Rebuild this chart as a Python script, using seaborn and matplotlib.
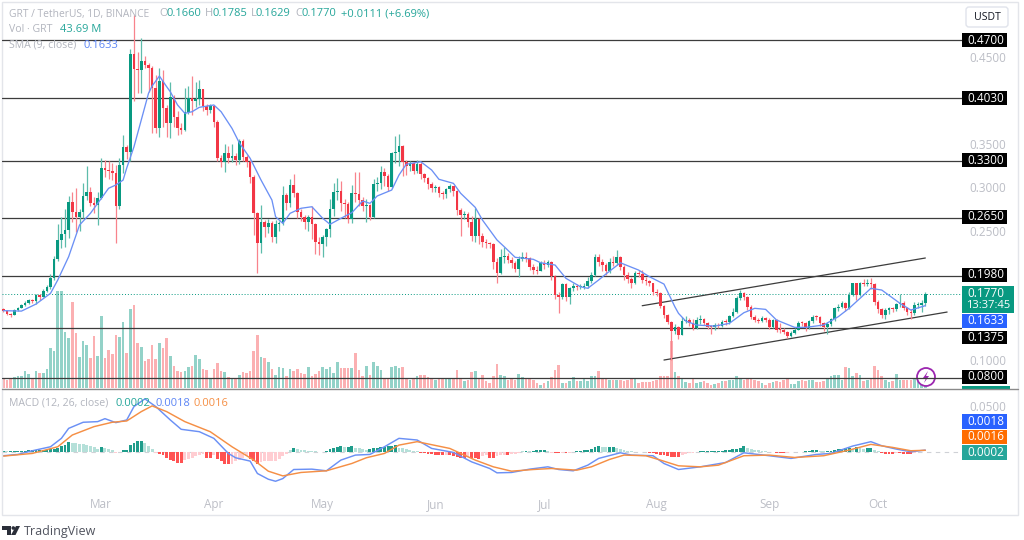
import numpy as np
import pandas as pd
import matplotlib
matplotlib.use('Agg')
import matplotlib.pyplot as plt
from matplotlib.patches import Circle, FancyBboxPatch, Polygon, Rectangle
from matplotlib.transforms import Affine2D
import seaborn as sns

# daily candles, day 0 = 2 Feb
first_open = 0.1590
closes = [
    .1575, .1542, .1530, .1582, .1610, .1640, .1667, .1698, .1690, .1755,
    .1736, .1806, .1844, .1948, .2168, .2391, .2456, .2506, .2826, .2711,
    .2660, .2711, .2899, .2948, .2814, .2790, .2872, .3222, .3199, .3190,
    .3170, .2783, .3257, .3468, .3407, .4538, .4365, .4350, .4461, .4411,
    .4377, .4146, .3688, .4227, .3915, .3741, .4042, .3811, .3684, .3661,
    .3869, .4030, .3996, .4020, .4131, .3938, .3892, .3938, .3757, .3337,
    .3295, .3395, .3340, .3360, .3320, .3534, .3352, .3295, .3122, .2702,
    .2356, .2602, .2545, .2590, .2425, .2575, .2590, .2910, .2821, .3025,
    .2937, .2711, .2660, .2595, .2652, .2575, .2363, .2340, .2429, .2513,
    .2745, .2948, .2960,
    .2818, .2810, .2633, .2937, .2925, .2852, .2787, .2795, .2656, .3037,
    .3045, .3172, .3130, .3006, .3392, .3405, .3479, .3288, .3248, .3280,
    .3190, .3270, .3153, .3106, .3037, .2991, .3000, .2933, .2925, .2980,
    .3010, .2956, .2737, .2679, .2690, .2602, .2436, .2633, .2436, .2371,
    .2360, .2349, .2140, .2013, .2199, .2210, .2160, .2130, .2056, .2171,
    .2195, .2180, .2082, .2050, .2036, .2121, .2100, .2140, .1975, .1755,
    .1736, .1882, .1736, .1831, .1858, .1845, .1850, .1860, .1917, .1986,
    .2199, .2140, .2102, .2036, .2140, .2130, .2199, .2082, .1986, .1940,
    .1898, .2013, .2000, .1929, .1915, .1893, .1793, .1780, .1632, .1525,
    .1443, .1345, .1386, .1293,
    .1455, .1470, .1432, .1374, .1467, .1480, .1432, .1390, .1386, .1410,
    .1400, .1447, .1440, .1513, .1563, .1718, .1776, .1736, .1620, .1505,
    .1467, .1460, .1487, .1467, .1383, .1467, .1356, .1349, .1330, .1282,
    .1320, .1356, .1437, .1430, .1371, .1450, .1505, .1500, .1427, .1383,
    .1420, .1475, .1601, .1620, .1667, .1610, .1755, .1891, .1755, .1891,
    .1885, .1895, .1885, .1679, .1590, .1525, .1582, .1600, .1590, .1648,
    .1665, .1601, .1563, .1550, .1640, .1645, .1660, .1770,
]
highs = [
    .1600, .1580, .1550, .1590, .1620, .1650, .1690, .1710, .1715, .1770,
    .1765, .1830, .1870, .2000, .2210, .2580, .2660, .2750, .2900, .2948,
    .2990, .2750, .3050, .3250, .3000, .2890, .2950, .3340, .3320, .3300,
    .3280, .3260, .3340, .3603, .3490, .4600, .4989, .4560, .4720, .4520,
    .4430, .4400, .4300, .4380, .4350, .3950, .4220, .4060, .3880, .3740,
    .4150, .4170, .4290, .4210, .4240, .4140, .3960, .3960, .3940, .3780,
    .3370, .3499, .3480, .3500, .3390, .3560, .3560, .3370, .3310, .3140,
    .2713, .2800, .2620, .2630, .2610, .2620, .2610, .3020, .2930, .3090,
    .3150, .2950, .2750, .2680, .2680, .2783, .2590, .2420, .2450, .2530,
    .2870, .3050, .3110,
    .3070, .2860, .2830, .3030, .3179, .3180, .2890, .2860, .2810, .3090,
    .3120, .3250, .3220, .3150, .3410, .3590, .3610, .3490, .3310, .3300,
    .3290, .3310, .3290, .3170, .3120, .3060, .3030, .3020, .2960, .2990,
    .3040, .3020, .2970, .2760, .2720, .2710, .2670, .2760, .2650, .2470,
    .2400, .2370, .2360, .2180, .2290, .2310, .2240, .2190, .2150, .2210,
    .2250, .2250, .2200, .2110, .2090, .2150, .2160, .2160, .2150, .1990,
    .1790, .1900, .1900, .1850, .1890, .1880, .1880, .1890, .1960, .2020,
    .2230, .2230, .2170, .2130, .2180, .2210, .2270, .2210, .2100, .2020,
    .1960, .2030, .2040, .2050, .1960, .1930, .1900, .1820, .1790, .1640,
    .1540, .1450, .1420, .1400,
    .1500, .1510, .1490, .1480, .1500, .1520, .1490, .1440, .1410, .1430,
    .1430, .1470, .1480, .1530, .1600, .1740, .1810, .1790, .1750, .1640,
    .1530, .1490, .1510, .1500, .1490, .1480, .1480, .1430, .1370, .1340,
    .1340, .1380, .1460, .1460, .1440, .1470, .1520, .1530, .1510, .1440,
    .1440, .1490, .1620, .1650, .1690, .1680, .1790, .1900, .1900, .1910,
    .1935, .1945, .1950, .1900, .1700, .1610, .1600, .1620, .1620, .1660,
    .1770, .1690, .1620, .1590, .1680, .1670, .1700, .1785,
]
lows = [
    .1560, .1525, .1500, .1525, .1575, .1605, .1630, .1650, .1660, .1650,
    .1700, .1730, .1790, .1830, .1930, .2150, .2300, .2310, .2410, .2600,
    .2480, .2500, .2650, .2850, .2780, .2700, .2564, .2870, .3120, .3100,
    .3080, .2359, .2750, .3160, .3330, .3300, .4000, .4088, .4090, .4380,
    .4100, .3626, .3630, .3580, .3700, .3580, .3568, .3700, .3600, .3610,
    .3650, .3850, .3830, .3930, .3950, .3880, .3830, .3860, .3700, .3300,
    .3230, .3180, .3280, .3290, .3260, .3270, .3300, .3230, .3050, .2450,
    .2013, .2240, .2420, .2470, .2370, .2356, .2500, .2560, .2740, .2770,
    .2890, .2650, .2610, .2520, .2500, .2400, .2230, .2217, .2200, .2320,
    .2430, .2670, .2850,
    .2720, .2640, .2590, .2590, .2830, .2780, .2720, .2600, .2620, .2640,
    .2960, .2980, .3020, .2960, .2990, .3280, .3250, .3130, .3140, .3190,
    .3150, .3160, .3100, .3060, .2980, .2940, .2950, .2890, .2860, .2880,
    .2950, .2900, .2680, .2436, .2630, .2540, .2380, .2370, .2340, .2310,
    .2300, .2300, .2060, .1894, .2000, .2130, .2120, .2070, .2020, .1967,
    .2150, .2140, .2040, .2000, .2000, .2030, .2060, .2080, .1930, .1710,
    .1548, .1710, .1690, .1651, .1800, .1810, .1820, .1820, .1840, .1900,
    .1970, .2090, .2030, .1990, .2010, .2090, .2100, .2050, .1930, .1900,
    .1840, .1880, .1960, .1890, .1870, .1860, .1760, .1750, .1600, .1490,
    .1420, .1005, .1300, .1250,
    .1290, .1430, .1400, .1350, .1360, .1420, .1410, .1360, .1310, .1350,
    .1380, .1390, .1410, .1420, .1500, .1550, .1700, .1700, .1580, .1480,
    .1440, .1430, .1440, .1440, .1360, .1370, .1330, .1320, .1300, .1260,
    .1270, .1300, .1350, .1400, .1340, .1360, .1430, .1470, .1400, .1340,
    .1300, .1400, .1460, .1570, .1600, .1570, .1590, .1740, .1700, .1740,
    .1860, .1860, .1820, .1640, .1550, .1490, .1480, .1540, .1560, .1570,
    .1620, .1580, .1530, .1480, .1530, .1600, .1560, .1629,
]
# volume in millions
volumes = [
    52, 43, 54, 58, 63, 67, 94, 76, 54, 94,
    81, 81, 103, 216, 202, 526, 526, 301, 270, 463,
    295, 166, 252, 232, 160, 279, 175, 387, 162, 205,
    184, 288, 277, 358, 189, 427, 448, 243, 220, 148,
    157, 234, 157, 241, 216, 270, 175, 117, 94, 88,
    94, 112, 117, 180, 157, 103, 99, 49, 103, 133,
    94, 85, 58, 54, 54, 72, 88, 79, 90, 198,
    286, 166, 160, 142, 103, 72, 112, 106, 67, 103,
    94, 103, 81, 76, 112, 67, 76, 90, 112, 103,
    112, 79, 139,
    108, 108, 108, 108, 189, 99, 63, 117, 72, 139,
    117, 99, 50, 50, 113, 121, 108, 113, 49, 45,
    49, 67, 72, 72, 59, 49, 45, 49, 54, 54,
    54, 54, 95, 54, 36, 45, 85, 90, 54, 72,
    36, 27, 67, 130, 72, 63, 45, 54, 41, 77,
    60, 54, 54, 41, 27, 18, 27, 36, 59, 95, 126,
    27, 27, 36, 59, 36, 36, 54, 36, 63, 67,
    90, 54, 49, 45, 45, 45, 41, 36, 41, 49,
    49, 27, 32, 32, 32, 36, 41, 63, 63, 63,
    252, 85, 63,
    54, 31, 27, 54, 27, 31, 36, 27, 18, 22,
    27, 36, 36, 45, 45, 63, 54, 45, 49, 52,
    45, 36, 27, 18, 27, 31, 36, 31, 45, 49,
    23, 23, 36, 41, 36, 45, 45, 31, 31, 36,
    54, 67, 72, 72, 45, 113, 108, 63, 81, 72,
    36, 45, 54, 117, 99, 63, 45, 31, 36, 77,
    45, 45, 45, 45, 49, 36, 27, 43.69,
]
macd_hist = [
    .0005, .0004, .0005, .0008, .0010, .0012, .0013, .0015, .0017, .0018,
    .0019, .0021, .0024, .0028, .0034, .0045, .0058, .0075, .0109, .0095,
    .0090, .0085, .0080, .0075, .0065, .0050, .0030, .0047, .0043, .0030,
    .0015, -.0010, .0002, .0018, .0020, .0076, .0098, .0112, .0114, .0090,
    .0058, .0029, -.0015, -.0029, -.0040, -.0065, -.0090, -.0105, -.0119, -.0123,
    -.0090, -.0080, -.0068, -.0050, -.0030, -.0025, -.0065, -.0068, -.0030, -.0080,
    -.0100, -.0130, -.0135, -.0130, -.0105, -.0090, -.0070, -.0050, -.0080, -.0105,
    -.0130, -.0115, -.0105, -.0104, -.0100, -.0095, -.0080, -.0050, -.0025, .0015,
    .0036, .0025, .0018, .0015, .0011, .0009, .0004, -.0007, .0001, .0011,
    .0025, .0040, .0054, .0058, .0050, .0056, .0058, .0040, .0036, .0030,
    .0018, .0030, .0036, .0040, .0050, .0054, .0058, .0065, .0072, .0043,
    .0036, .0025, .0018, .0007, .0003, -.0015, -.0018, -.0022, -.0029, -.0036,
    -.0037, -.0040, -.0030, -.0035, -.0050, -.0060, -.0065, -.0070, -.0060, -.0065,
    -.0070, -.0074, -.0050, -.0030, -.0065, -.0072, -.0050, -.0040, -.0030, -.0030,
    -.0025, -.0020, -.0010, .0007, .0007, .0004, .0004, .0014, .0014, .0014,
    .0012, -.0008, -.0011, -.0015, -.0010, -.0018, -.0011, -.0002, .0007, .0007,
    .0014, .0022, .0029, .0050, .0058, .0054, .0052, .0054, .0055, .0036,
    .0025, .0018, .0007, .0003, -.0001, -.0002, -.0003, -.0004, -.0010, -.0014,
    -.0022, -.0032, -.0040, -.0047, -.0054, -.0058, -.0060, -.0040, -.0020, -.0014,
    -.0008, .0002, .0004, .0005, .0007, .0007, .0008, .0009, .0011, .0018,
    .0022, .0029, .0035, .0040, .0058, .0040, .0029, .0022, .0014, .0007,
    .0004, -.0007, -.0004, -.0011, -.0014, -.0014, -.0010, -.0007, -.0003, -.0001,
    .0002, .0004, .0009, .0014, .0018, .0011, .0007, .0008, .0011, .0018,
    .0029, .0032, .0036, .0040, .0029, .0054, .0036, .0032, .0036, .0040,
    .0018, .0010, -.0018, -.0025, -.0029, -.0029, -.0011, -.0011, -.0022, -.0025,
    -.0029, -.0011, -.0007, -.0004, .0002,
]

sma_days = [0, 5, 9, 13, 15, 18, 21, 24, 26, 29, 31, 33, 34, 36, 39, 40, 41, 43, 45, 46, 48, 50, 52, 54, 58, 60, 63, 65, 68, 71,
            74, 75, 77, 79, 82, 85, 88, 90, 93, 96, 99, 101, 103, 107, 109, 111, 115, 118, 120, 124, 126, 130, 132, 136, 138, 141,
            146, 148, 152, 155, 159, 161, 164, 166, 170, 172, 175, 178, 182, 185, 186, 188, 191, 196, 200, 204, 207, 210, 213, 218,
            221, 226, 230, 233, 237, 239, 242, 247, 250, 253, 254]
sma_vals = [.1575, .1570, .1651, .1775, .1929, .2198, .2564, .2699, .2814, .2988, .3026, .3083, .3222, .3468, .3930, .4084, .4169,
            .4284, .4161, .4103, .3950, .3854, .3872, .3923, .3950, .3872, .3680, .3514, .3334, .3083,
            .2852, .2660, .2583, .2699, .2757, .2775, .2641, .2572, .2641, .2706, .2841, .2814, .2899, .2968, .3141, .3265,
            .3295, .3199, .3092, .3045, .2930, .2768, .2621, .2391, .2313, .2191,
            .2168, .2128, .2102, .1948, .1851, .1833, .1929, .1998, .2128, .2094, .2044, .1967, .1882, .1620, .1544, .1455,
            .1409, .1397, .1428, .1551, .1602, .1590, .1467, .1382, .1382, .1409, .1505, .1602, .1755, .1833, .1813, .1660,
            .1582, .1620, .1633]

macd_days = [0, 4, 8, 13, 16, 18, 22, 26, 28, 31, 34, 36, 39, 42, 46, 49, 54, 58, 62, 64, 68, 70, 73, 75, 77, 80, 85, 89, 93, 97, 101,
             105, 109, 114, 118, 124, 129, 134, 136, 140, 145, 150, 153, 157, 161, 164, 170, 173, 179, 182, 186, 192, 199, 204,
             211, 217, 224, 228, 234, 239, 242, 246, 250, 254]
macd_line = [-.0043, -.0029, .0011, .0054, .0145, .0253, .0319, .0326, .0358, .0315, .0344, .0489, .0572, .0489, .0344, .0243,
             .0217, .0145, -.0018, -.0065, -.0101, -.0235, -.0297, -.0319, -.0290, -.0192, -.0188, -.0206, -.0090, -.0036, -.0029,
             .0054, .0145, .0127, .0036, -.0007, -.0109, -.0181, -.0228, -.0224, -.0188, -.0163, -.0192, -.0206, -.0145, -.0072,
             -.0011, -.0036, -.0043, -.0127, -.0192, -.0163, -.0116, -.0011, -.0043, -.0072, -.0029, -.0018, .0062, .0109, .0065,
             .0029, .0000, .0018]
signal_days = [0, 8, 15, 19, 25, 30, 34, 38, 41, 45, 50, 57, 63, 69, 73, 77, 82, 89, 96, 100, 105, 109, 114, 123, 130, 135, 140,
               146, 151, 158, 162, 167, 171, 177, 181, 186, 192, 197, 204, 211, 218, 226, 233, 239, 245, 250, 254]
signal_line = [-.0047, -.0018, .0054, .0181, .0272, .0319, .0333, .0434, .0496, .0434, .0326, .0217, .0054, -.0090, -.0210,
               -.0261, -.0224, -.0206, -.0127, -.0065, -.0018, .0072, .0109, .0036, -.0090, -.0163, -.0210,
               -.0192, -.0181, -.0199, -.0163, -.0083, -.0036, -.0043, -.0090, -.0152, -.0163, -.0145, -.0043, -.0036, -.0062,
               -.0043, .0018, .0080, .0047, .0011, .0016]

level_prices = [0.47, 0.403, 0.33, 0.265, 0.198, 0.1375, 0.08]
upper_channel_days, upper_channel_prices = [176, 254], [0.1632, 0.2183]
lower_channel_days, lower_channel_prices = [182, 260], [0.1005, 0.1559]
price_ticks = [0.45, 0.35, 0.30, 0.25, 0.10]
month_days = [27, 58, 88, 119, 149, 180, 211, 241]
month_names = ['Mar', 'Apr', 'May', 'Jun', 'Jul', 'Aug', 'Sep', 'Oct']

GREEN = '#089981'
RED = '#f23645'
GREY = '#b2b5be'
TICK_GREY = '#bcbec6'

days = np.arange(len(closes))
closes_arr = np.array(closes)
opens_arr = np.r_[first_open, closes_arr[:-1]]
up = closes_arr >= opens_arr
hist = np.array(macd_hist)
# darker bar while the histogram moves away from zero
growing = np.abs(hist) >= np.r_[0, np.abs(hist[:-1])]
hist_kind = np.where(hist >= 0, np.where(growing, 'up_dark', 'up_light'),
                     np.where(growing, 'down_dark', 'down_light'))
df = pd.DataFrame({'day': days, 'volume': volumes, 'side': np.where(up, 'up', 'down'),
                   'hist': hist, 'kind': hist_kind})

sns.set_theme(style='white')
plt.rcParams['font.family'] = ['Open Sans', 'DejaVu Sans']

W, H = 1024, 540
fig = plt.figure(figsize=(W / 100, H / 100), dpi=100, facecolor='white')
pix = Affine2D().scale(1, -1).translate(0, H)


def pane(left, top, right, bottom):
    return fig.add_axes([left / W, 1 - bottom / H, (right - left) / W, (bottom - top) / H])


ax = pane(2, 2, 962, 388)
ax_vol = ax.twinx()
ax_macd = pane(2, 390, 962, 515)
ax.set_zorder(ax_vol.get_zorder() + 1)
ax.patch.set_visible(False)

xlim = (-0.36, 264.1)

# volume sits behind the candles
sns.barplot(data=df, x='day', y='volume', hue='side', palette={'up': '#93d2c8', 'down': '#fbb0b2'},
            native_scale=True, dodge=False, width=0.72, saturation=1, errorbar=None, legend=False,
            linewidth=0, ax=ax_vol)
ax_vol.set_ylim(0, 2084)
ax_vol.set_axis_off()

# levels and channel
for p in level_prices:
    ax.axhline(p, color='#3c3c3c', lw=0.9, zorder=1)
ax.axhline(closes[-1], color=GREEN, lw=0.7, ls=(0, (1, 2)), zorder=1)
sns.lineplot(x=upper_channel_days, y=upper_channel_prices, color='#3c3c3c', lw=0.9, ax=ax, zorder=1)
sns.lineplot(x=lower_channel_days, y=lower_channel_prices, color='#3c3c3c', lw=0.9, ax=ax, zorder=1)

# candles
ax.vlines(days[up], np.array(lows)[up], np.array(highs)[up], color='#5dbcab', lw=0.9, zorder=2)
ax.vlines(days[~up], np.array(lows)[~up], np.array(highs)[~up], color='#f8838c', lw=0.9, zorder=2)
body_low = np.minimum(opens_arr, closes_arr)
body_h = np.maximum(np.abs(closes_arr - opens_arr), 0.0012)
ax.bar(days, body_h, bottom=body_low, width=0.72, color=np.where(up, GREEN, RED), linewidth=0, zorder=3)

sns.lineplot(x=sma_days, y=sma_vals, color='#6b90f5', lw=0.95, ax=ax, zorder=4, sort=False)

ax.set_xlim(xlim)
ax.set_ylim(0.0682, 0.5139)
ax_vol.set_xlim(xlim)
ax.set_xlabel('')
ax.set_ylabel('')
ax.set_xticks([])
ax.yaxis.tick_right()
ax.set_yticks(price_ticks, [f'{t:.4f}' for t in price_ticks])
ax.tick_params(axis='y', length=0, pad=5.5, labelsize=8.5, labelcolor=TICK_GREY)
for s in ax.spines.values():
    s.set_visible(False)

# MACD pane
ax_macd.axhline(0, color='#cfd1d6', lw=0.8, ls=(0, (4, 4)), zorder=0)
sns.barplot(data=df, x='day', y='hist', hue='kind',
            palette={'up_dark': '#1f9d8b', 'up_light': '#b5e0d9', 'down_dark': '#ff5252', 'down_light': '#ffcdd2'},
            native_scale=True, dodge=False, width=0.8, saturation=1, errorbar=None, legend=False,
            linewidth=0, ax=ax_macd)
sns.lineplot(x=macd_days, y=macd_line, color='#6b90f5', lw=1.05, ax=ax_macd, sort=False)
sns.lineplot(x=signal_days, y=signal_line, color='#f58f45', lw=1.05, ax=ax_macd, sort=False)
ax_macd.set_xlim(xlim)
ax_macd.set_ylim(-0.0684, 0.0668)
ax_macd.set_xlabel('')
ax_macd.set_ylabel('')
ax_macd.yaxis.tick_right()
ax_macd.set_yticks([0.05], ['0.0500'])
ax_macd.tick_params(axis='y', length=0, pad=5.5, labelsize=8.5, labelcolor=TICK_GREY)
ax_macd.set_xticks(month_days, month_names)
ax_macd.tick_params(axis='x', length=0, pad=-12, labelsize=8.5, labelcolor=TICK_GREY)
for s in ax_macd.spines.values():
    s.set_visible(False)


def tag(top, bottom, label, color='black', width=45):
    fig.add_artist(Rectangle((962, top), width, bottom - top, transform=pix, fc=color, ec='none', zorder=5))
    fig.text(986 / W, 1 - (top + bottom) / 2 / H, label, ha='center', va='center', color='white',
             fontsize=8.5, fontweight='medium', zorder=6)


# price tags on the right hand scale
tag(33, 47, '0.4700')
tag(91, 105, '0.4030')
tag(153, 167, '0.3300')
tag(210, 224, '0.2650')
tag(268, 282, '0.1980')
fig.add_artist(Rectangle((962, 286), 52, 27, transform=pix, fc=GREEN, ec='none', zorder=5))
fig.text(986 / W, 1 - 293.5 / H, '0.1770', ha='center', va='center', color='white', fontsize=8.5,
         fontweight='medium', zorder=6)
fig.text(988 / W, 1 - 306 / H, '13:37:45', ha='center', va='center', color='white', fontsize=8, zorder=6)
tag(314, 328, '0.1633', '#2962ff')
tag(331, 344, '0.1375')
tag(370, 384, '0.0800')
tag(414, 429, '0.0018', '#2962ff')
tag(430, 444, '0.0016', '#ff6d00')
tag(445, 460, '0.0002', '#26a69a')

# frame and the bits drawn on top of the chart
fig.add_artist(Rectangle((2, 2), 1016, 513, transform=pix, fill=False, ec='#e3e5ea', lw=1))
fig.add_artist(plt.Line2D([2, 1018], [389, 389], transform=pix, color='#8a8a8a', lw=1))
fig.add_artist(Rectangle((962, 385.5), 48, 3, transform=pix, fc=GREEN, ec='none'))
fig.add_artist(FancyBboxPatch((966, 7), 42, 20, boxstyle='round,pad=0,rounding_size=3', transform=pix,
                              fc='white', ec='#e0e3eb', lw=1))
fig.text(987 / W, 1 - 17 / H, 'USDT', ha='center', va='center', fontsize=7.6, color='#131722')

fig.add_artist(Circle((926, 377), 9, transform=pix, fc='white', ec='#9c27b0', lw=1.3))
fig.add_artist(Polygon([(928, 371), (923, 378), (926, 378), (924, 383), (929, 376), (926, 376)],
                       transform=pix, fc='#9c27b0', ec='none'))


def legend_text(x, y, s, color=GREY, size=8):
    fig.text(x / W, 1 - y / H, s, ha='left', va='center', fontsize=size, color=color, zorder=6)


legend_text(9, 14, 'GRT / TetherUS, 1D, BINANCE', size=7.4)
for x, head, val_x, val in [(159, 'O', 166.5, '0.1660'), (205, 'H', 212.5, '0.1785'), (251, 'L', 256, '0.1629'),
                            (295, 'C', 302, '0.1770')]:
    legend_text(x, 14, head)
    legend_text(val_x, 14, val, '#26a69a')
legend_text(341, 14, '+0.0111 (+6.69%)', '#26a69a')
legend_text(9, 30, 'Vol · GRT', size=7.6)
legend_text(60, 30, '43.69 M', '#26a69a')
legend_text(9, 45, 'SMA (9, close)', size=7.6)
legend_text(83, 45, '0.1633', '#5c85f5')
legend_text(9, 403, 'MACD (12, 26, close)', size=7.6)
legend_text(116, 403, '0.0002', '#26a69a')
legend_text(155, 403, '0.0018', '#5c85f5')
legend_text(193, 403, '0.0016', '#f58f45')

# TradingView mark
for art in [Polygon([(2, 526), (11, 526), (11, 535), (7, 535), (7, 530), (2, 530)]),
            Circle((13.3, 528), 1.8),
            Polygon([(16, 526), (20, 526), (15.5, 535), (11, 535)])]:
    art.set_transform(pix)
    art.set_facecolor('#2a2e39')
    art.set_edgecolor('none')
    fig.add_artist(art)
fig.text(24 / W, 1 - 531 / H, 'TradingView', ha='left', va='center', fontsize=9, color='#50535e')

fig.savefig('out.png', dpi=100)
